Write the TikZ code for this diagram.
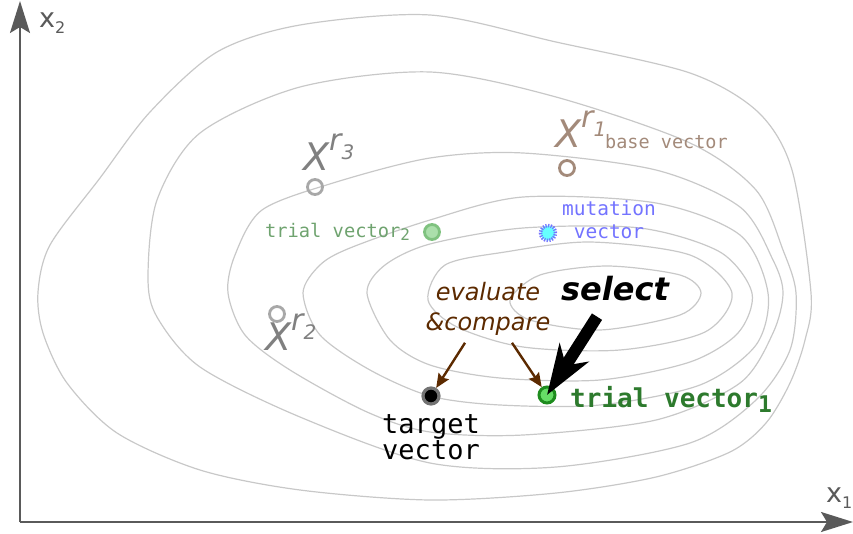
\documentclass[tikz,border=0pt]{standalone}
\usepackage{fontspec}
\setmainfont{DejaVu Sans}
\newfontfamily\monofont{DejaVu Sans Mono}
\usepackage{tikz}
\usetikzlibrary{arrows.meta, positioning}
\definecolor{gridgray}{HTML}{C8C8C8}
\definecolor{axisgray}{HTML}{5A5A5A}
\definecolor{randgray}{HTML}{808080}
\definecolor{ringgray}{HTML}{A8A8A8}
\definecolor{basetan}{HTML}{A38A7A}
\definecolor{trialtwo}{HTML}{6FA36F}
\definecolor{trialtwofill}{HTML}{ABDFAB}
\definecolor{trialtwoline}{HTML}{7FC27F}
\definecolor{mutblue}{HTML}{7373FF}
\definecolor{mutcyan}{HTML}{66FFFF}
\definecolor{evalbrown}{HTML}{5C2A00}
\definecolor{trialone}{HTML}{2D7A2D}
\definecolor{trialonefill}{HTML}{66DD66}
\definecolor{trialoneline}{HTML}{1E8C1E}
\tikzstyle{contour} = [draw=gridgray, line width=1.2pt]
\tikzstyle{axis}    = [draw=axisgray, line width=2pt,
                       -{Stealth[length=32pt, width=20pt, inset=6pt]}]
\tikzstyle{ring}    = [circle, minimum size=15pt, inner sep=0pt, line width=2.8pt]
\tikzstyle{evarrow} = [draw=evalbrown, line width=2.4pt,
                       -{Stealth[length=14pt, width=12pt, inset=2pt]}]
\tikzstyle{selarrow} = [draw=black, line width=12pt,
                        -{Stealth[length=50pt, width=34pt, inset=15pt]}]
\newcommand{\xr}[1]{{\itshape\fontsize{38}{38}\selectfont X\raisebox{20pt}{\fontsize{30}{30}\selectfont r\raisebox{-9pt}{\fontsize{20}{20}\selectfont #1}}}}

\begin{document}
\begin{tikzpicture}[x=1pt, y=-1pt, every node/.style={inner sep=0pt}]
  \useasboundingbox (0,0) rectangle (853,533);

  % level curves
  \draw[contour] plot[smooth cycle] coordinates {(430,15) (556,42) (690,73) (758,112)
    (792,170) (811,293) (805,340) (790,383) (766,423) (730,452) (656,477) (556,493)
    (430,500) (300,490) (200,470) (117,433) (67,383) (43,333) (38,292) (50,245)
    (100,178) (150,112) (217,52) (300,25)};
  \draw[contour] plot[smooth cycle] coordinates {(430,72) (556,97) (690,143) (756,190)
    (783,250) (796,293) (790,350) (756,400) (690,443) (556,467) (430,463) (300,417)
    (200,367) (157,317) (148,277) (157,200) (200,133) (300,87)};
  \draw[contour] plot[smooth cycle] coordinates {(430,158) (523,153) (656,170) (740,207)
    (773,260) (783,293) (773,333) (740,383) (656,420) (523,435) (430,432) (367,412)
    (290,370) (245,335) (228,293) (235,255) (262,210) (333,183)};
  \draw[contour] plot[smooth cycle] coordinates {(430,220) (523,197) (656,203) (740,235)
    (768,293) (756,345) (700,385) (600,405) (500,405) (430,396) (370,370) (320,335)
    (303,293) (320,265) (350,248)};
  \draw[contour] plot[smooth cycle] coordinates {(430,244) (523,228) (640,228) (720,252)
    (752,293) (738,333) (690,362) (600,380) (500,378) (430,365) (390,340) (367,293)
    (385,265)};
  \draw[contour] plot[smooth cycle] coordinates {(445,265) (505,252) (590,242) (690,255)
    (732,293) (705,332) (620,350) (523,347) (457,327) (428,300)};
  \draw[contour] plot[smooth cycle] coordinates {(510,300) (540,275) (607,266) (680,275)
    (701,293) (680,315) (600,330) (530,320)};

  % axes
  \coordinate (o)    at (20,522);
  \coordinate (xend) at (853,522);
  \coordinate (yend) at (20,1);
  \draw[axis] (o) -- (xend);
  \draw[axis] (o) -- (yend);
  \node[anchor=base west, text=axisgray, font=\fontsize{27}{27}\selectfont] (xtwo) at (39,27)
    {x\raisebox{-6pt}{\fontsize{16}{16}\selectfont 2}};
  \node[anchor=base west, text=axisgray, font=\fontsize{27}{27}\selectfont] (xone) at (826,502)
    {x\raisebox{-6pt}{\fontsize{16}{16}\selectfont 1}};

  % random vectors
  \node[ring, draw=ringgray] (r3) at (315,187) {};
  \node[anchor=base west, text=randgray] (xr3) at (303,170) {\xr{3}};
  \node[ring, draw=ringgray] (r2) at (277,314) {};
  \node[anchor=base west, text=randgray] (xr2) at (265,350) {\xr{2}};
  \node[ring, draw=basetan] (r1) at (567,168) {};
  \node[anchor=base west, text=basetan] (xr1) at (555,147) {\xr{1}};
  \node[anchor=base west, text=basetan, font=\monofont\fontsize{18.5}{18.5}\selectfont]
    (basev) at (605,148) {base vector};

  % mutation and second trial
  \node[ring, fill=mutcyan, draw=mutblue, line width=3.5pt, minimum size=15pt,
        dash pattern=on 1.3pt off 1.3pt] (mut) at (548,233) {};
  \node[anchor=north, align=center, text=mutblue, font=\monofont\fontsize{19.5}{23}\selectfont]
    (mutv) at (609,200) {mutation\\vector};
  \node[ring, fill=trialtwofill, draw=trialtwoline] (tv2) at (432,232) {};
  \node[anchor=base west, text=trialtwo, font=\monofont\fontsize{18.7}{18.7}\selectfont]
    (tv2txt) at (265,237) {trial vector\raisebox{-3pt}{\fontsize{16}{16}\selectfont 2}};

  % target and first trial
  \node[ring, fill=black, draw=black!55, minimum size=16pt, line width=3.2pt] (tgt) at (431,396) {};
  \node[below=9pt of tgt, align=center, font=\monofont\fontsize{27}{23}\selectfont]
    (tgttxt) {target\\vector};
  \node[ring, fill=trialonefill, draw=trialoneline, minimum size=16pt, line width=3pt]
    (tv1) at (547,395) {};
  \node[anchor=base west, text=trialone, font=\monofont\bfseries\fontsize{26}{26}\selectfont]
    (tv1txt) at (570,407) {trial vector\raisebox{-5pt}{\fontsize{23}{23}\selectfont 1}};

  % evaluate and select
  \node[align=center, text=evalbrown, font=\itshape\fontsize{24}{30}\selectfont]
    (evc) at (488,309) {evaluate\\\&compare};
  \draw[evarrow] ([xshift=-23pt, yshift=-7pt]evc.south) -- (tgt);
  \draw[evarrow] ([xshift=24pt, yshift=-7pt]evc.south) -- (tv1);
  \node[anchor=base, font=\bfseries\itshape\fontsize{32}{32}\selectfont] (sel) at (615,300) {select};
  \draw[selarrow] ([xshift=-18pt, yshift=-16pt]sel.south) -- (tv1.center);
\end{tikzpicture}
\end{document}
